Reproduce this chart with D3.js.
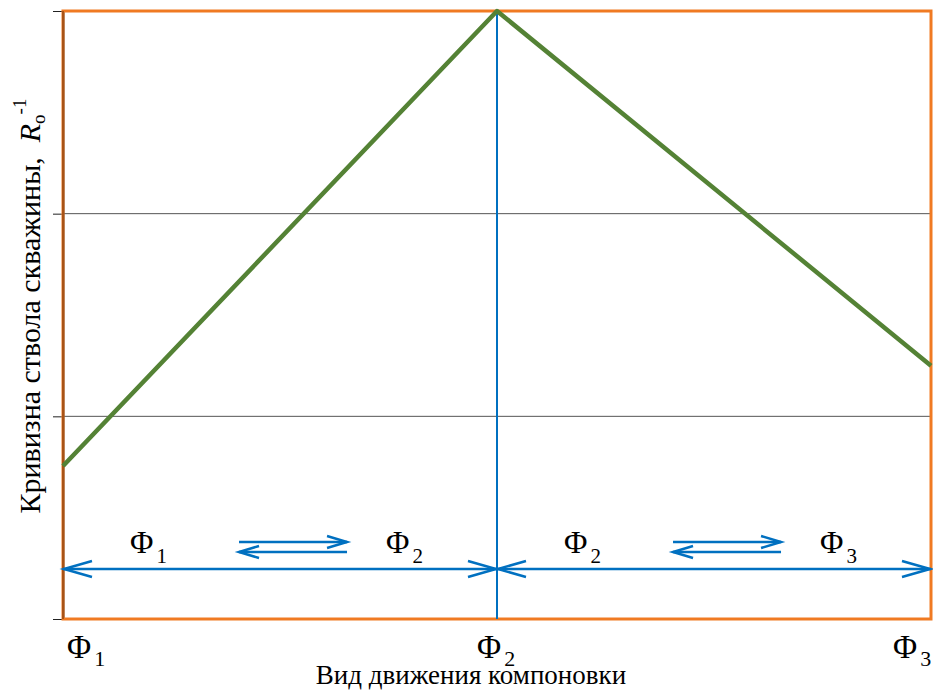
<!DOCTYPE html>
<html><head><meta charset="utf-8">
<script src="https://cdn.jsdelivr.net/npm/d3@7"></script>
<style>body{margin:0;background:#fff}svg{display:block}</style>
</head><body>
<script>
const categories = ["1", "2", "3"];          // subscripts of Φ
const curvature = [0.755, 3.0, 1.25];        // relative curvature R_o^-1
const yTicks = [0, 1, 2, 3];
const yTitle = "Кривизна ствола скважины,";
const xTitle = "Вид движения компоновки";
const segLabels = [["1","2"],["2","3"]];

const W = 933, H = 691;
const m = {l:63, r:2, t:11, b:72};
const FONT = '"Liberation Serif"';
const svg = d3.select("body").append("svg").attr("width",W).attr("height",H);
const x = d3.scalePoint().domain(categories).range([m.l, W-m.r]);
const y = d3.scaleLinear().domain([0,3]).range([H-m.b, m.t]);

// gridlines
svg.append("g").selectAll("line").data([1,2]).join("line")
  .attr("x1",m.l).attr("x2",W-m.r).attr("y1",d=>y(d)).attr("y2",d=>y(d))
  .attr("stroke","#555").attr("stroke-width",1);

// y axis
const ya = svg.append("g").attr("transform",`translate(${m.l},0)`)
  .call(d3.axisLeft(y).tickValues(yTicks).tickFormat("").tickSize(10).tickSizeOuter(0));
ya.selectAll("line").attr("stroke","#222");
ya.select(".domain").attr("stroke","#222").attr("stroke-width",2);

// orange frame
svg.append("rect").attr("x",m.l).attr("y",y(3)).attr("width",W-m.r-m.l).attr("height",y(0)-y(3))
  .attr("fill","none").attr("stroke","#F07A22").attr("stroke-width",3);
svg.append("line").attr("x1",m.l).attr("x2",m.l).attr("y1",y(3)).attr("y2",y(0))
  .attr("stroke","#7a3a10").attr("stroke-width",1.2);

// vertical blue line at Φ2
svg.append("line").attr("x1",x("2")).attr("x2",x("2")).attr("y1",y(3)).attr("y2",y(0))
  .attr("stroke","#0070C0").attr("stroke-width",2);

// green line
svg.append("path").datum(categories.map((c,i)=>[x(c),y(curvature[i])]))
  .attr("d",d3.line()).attr("fill","none").attr("stroke","#548235")
  .attr("stroke-width",4.5).attr("stroke-linejoin","round");

// arrows
const blue = "#0070C0";
function arrowHead(g, px, py, dir, len, half){
  g.append("path").attr("d",`M${px-dir*len},${py-half}L${px},${py}L${px-dir*len},${py+half}`)
    .attr("fill","none").attr("stroke",blue).attr("stroke-width",2.5);
}
const ay = 569;
const ag = svg.append("g");
function phi(g, px, py, sub, size, subDy){
  const t = g.append("text").attr("x",px).attr("y",py).style("font-family",FONT)
    .style("font-size",size+"px").attr("fill","#000");
  t.append("tspan").text("Φ");
  t.append("tspan").style("font-size",Math.round(size*0.66)+"px").attr("dx",3).attr("dy",subDy).text(sub);
}
for (let i=0;i<2;i++){
  const x0 = x(categories[i]), x1 = x(categories[i+1]);
  ag.append("line").attr("x1",x0).attr("x2",x1).attr("y1",ay).attr("y2",ay)
    .attr("stroke",blue).attr("stroke-width",2.5);
  arrowHead(ag, x0+1, ay, -1, 28, 8);
  arrowHead(ag, x1-1, ay, 1, 28, 8);
  const cx = x0 + (x1-x0)*0.53;
  const dx0 = cx-54, dx1 = cx+54;
  ag.append("line").attr("x1",dx0).attr("x2",dx1).attr("y1",ay-27).attr("y2",ay-27)
    .attr("stroke",blue).attr("stroke-width",2.5);
  arrowHead(ag, dx1, ay-27, 1, 20, 6);
  ag.append("line").attr("x1",dx0).attr("x2",dx1).attr("y1",ay-17).attr("y2",ay-17)
    .attr("stroke",blue).attr("stroke-width",2.5);
  arrowHead(ag, dx0, ay-17, -1, 20, 6);
  phi(ag, x0+67, 553, segLabels[i][0], 32, 10);
  phi(ag, x1-111, 553, segLabels[i][1], 32, 10);
}

// x tick labels
const xl = svg.append("g");
categories.forEach((c,i)=>{
  const px = i===0 ? x(c)+4 : (i===2 ? x(c)-38 : x(c)-20);
  phi(xl, px, 658, c, 33, 8);
});

// x title
svg.append("text").attr("x",471).attr("y",684).attr("text-anchor","middle")
  .style("font-family",FONT).style("font-size","27px").attr("fill","#000").text(xTitle);

// y title
const yt = svg.append("text").attr("transform","translate(40,306) rotate(-90)")
  .attr("text-anchor","middle").style("font-family",FONT).style("font-size","30px").attr("fill","#000");
yt.append("tspan").text(yTitle + "\u00a0\u00a0");
yt.append("tspan").style("font-style","italic").text("R");
yt.append("tspan").style("font-size","19px").attr("dy",5).text("o");
yt.append("tspan").style("font-size","19px").attr("dy",-19).text("-1");
</script>
</body></html>
